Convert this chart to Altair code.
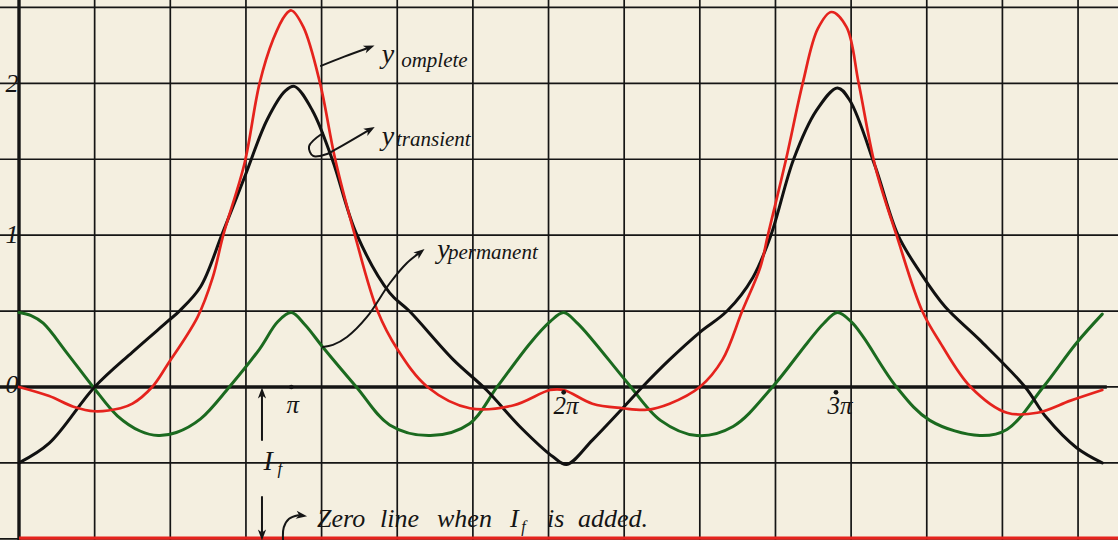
import altair as alt
import pandas as pd

# Abscissa: angle in degrees (one grid square = 50 degrees, so pi = 180).
# Ordinate: current, one unit = two grid squares.

transient_deg = [0, 20, 50, 75, 98, 106, 120, 134, 149, 164, 176, 182, 194, 207, 223,
                 245, 258, 287, 309, 331, 353, 362, 379, 399, 412, 430, 450, 468, 485,
                 497, 512, 527, 541, 549, 566, 581, 596, 612, 635, 665, 679, 699, 716]
transient_val = [-0.50, -0.37, 0.00, 0.23, 0.43, 0.50, 0.66, 1.00, 1.38, 1.76, 1.95, 1.98, 1.82, 1.50, 1.01,
                 0.62, 0.50, 0.18, -0.02, -0.26, -0.46, -0.51, -0.35, -0.14, 0.00, 0.18, 0.36, 0.50, 0.72,
                 1.00, 1.50, 1.82, 1.97, 1.89, 1.45, 1.00, 0.75, 0.53, 0.31, 0.00, -0.20, -0.40, -0.50]

complete_deg = [0, 20, 36, 50, 67, 75, 88, 98, 118, 128,
                135, 149, 159, 168, 176, 180, 188, 199, 209, 222,
                237, 250, 270, 298, 327, 351, 360, 379, 399, 415,
                430, 450, 465, 478, 490, 495, 507, 518, 528, 537,
                547, 555, 566, 580, 597, 609, 629, 653, 673, 695, 716]
complete_val = [0.00, -0.06, -0.13, -0.16, -0.14, -0.11, 0.00, 0.145, 0.46, 0.72,
                1.00, 1.47, 2.00, 2.29, 2.45, 2.48, 2.37, 2.00, 1.50, 1.00,
                0.50, 0.25, 0.00, -0.14, -0.12, -0.02, -0.02, -0.11, -0.14, -0.15,
                -0.11, 0.00, 0.18, 0.50, 0.79, 1.00, 1.50, 2.00, 2.36, 2.47,
                2.37, 2.00, 1.45, 1.00, 0.50, 0.29, 0.00, -0.17, -0.17, -0.09, -0.02]

permanent_deg = [0, 8, 16, 32, 49, 65, 80, 92, 104, 120, 139, 159, 171, 180, 189,
                 201, 223, 245, 272, 298, 316, 338, 351, 360, 369,
                 379, 402, 424, 448, 472, 498, 521, 532, 541, 550,
                 558, 580, 602, 635, 653, 677, 699, 716]
permanent_val = [0.49, 0.47, 0.42, 0.22, 0.00, -0.19, -0.29, -0.32, -0.30, -0.21, 0.00, 0.25, 0.43, 0.49, 0.41,
                 0.26, 0.00, -0.25, -0.32, -0.24, 0.00, 0.29, 0.43, 0.49, 0.42,
                 0.31, 0.03, -0.22, -0.32, -0.26, 0.00, 0.29, 0.42, 0.49, 0.43,
                 0.33, 0.00, -0.22, -0.32, -0.28, 0.00, 0.29, 0.48]

grid_deg = [0, 50, 100, 150, 200, 250, 300, 350, 400, 450, 500, 550, 600, 650, 700]
grid_val = [-1.0, -0.5, 0.0, 0.5, 1.0, 1.5, 2.0, 2.5]

pi_marks = [180, 360, 540]
pi_labels = ["π", "2π", "3π"]
y_labels = ["2", "1", "0"]

I_F = 1.0  # the constant term; adding it moves the zero line down by one unit

PAPER = "#f4efe0"
INK = "#151515"
RED = "#e5231d"
GREEN = "#1b6a1f"
BLACK = "#111111"
FONT = "Liberation Serif"

XS = alt.Scale(domain=[-12.56, 726.4], nice=False, zero=False)
YS = alt.Scale(domain=[-1.008, 2.549], nice=False, zero=False)


def X(field="deg"):
    return alt.X(f"{field}:Q", scale=XS, axis=None)


def Y(field="val"):
    return alt.Y(f"{field}:Q", scale=YS, axis=None)


# --- squared paper ---------------------------------------------------------
vgrid = alt.Chart(pd.DataFrame({"deg": grid_deg})).mark_rule(
    color=INK, strokeWidth=1.7).encode(x=X())
hgrid = alt.Chart(pd.DataFrame({"val": grid_val})).mark_rule(
    color=INK, strokeWidth=1.7).encode(y=Y())
y_axis = alt.Chart(pd.DataFrame({"deg": [0]})).mark_rule(
    color=INK, strokeWidth=3.4).encode(x=X())
x_axis = alt.Chart(pd.DataFrame({"deg": [-12.56], "deg2": [719], "val": [0]})).mark_rule(
    color=INK, strokeWidth=3.4).encode(x=X(), x2="deg2:Q", y=Y())
shifted_zero = alt.Chart(pd.DataFrame({"deg": [0], "deg2": [726.4], "val": [-I_F + 0.004]})).mark_rule(
    color=RED, strokeWidth=3.2).encode(x=X(), x2="deg2:Q", y=Y())

# --- the three curves ------------------------------------------------------
def curve(degs, vals, color, width):
    df = pd.DataFrame({"deg": degs, "val": vals})
    return alt.Chart(df).mark_line(
        color=color, strokeWidth=width, interpolate="catmull-rom",
        strokeCap="round", strokeJoin="round").encode(x=X(), y=Y())


permanent = curve(permanent_deg, permanent_val, GREEN, 3.0)
transient = curve(transient_deg, transient_val, BLACK, 3.0)
complete = curve(complete_deg, complete_val, RED, 2.7)

# --- pointer arrows --------------------------------------------------------
arrow_paths = {
    "complete": [(199.6, 2.115), (215.0, 2.176), (230.7, 2.233)],
    "transient": [(200.9, 1.673), (191.7, 1.585), (194.4, 1.522), (203.6, 1.535),
                  (207.6, 1.555), (231.0, 1.690)],
    "permanent": [(200.9, 0.264), (207.5, 0.277), (216.8, 0.329), (230.0, 0.461),
                  (245.2, 0.685), (256.4, 0.817), (264.0, 0.878)],
    "up": [(160.6, -0.349), (160.6, -0.06)],
    "down": [(160.6, -0.725), (160.6, -0.955)],
    "hook": [(174.5, -1.008), (175.0, -0.925), (178.5, -0.868), (184.6, -0.845)],
}
rows = []
for name, pts in arrow_paths.items():
    for i, (d, v) in enumerate(pts):
        rows.append({"id": name, "i": i, "deg": d, "val": v})
arrows = alt.Chart(pd.DataFrame(rows)).mark_line(
    color=INK, strokeWidth=2.0, interpolate="catmull-rom", strokeCap="round").encode(
    x=X(), y=Y(), detail="id:N", order="i:Q")

heads = pd.DataFrame({
    "deg": [231.6, 232.0, 265.2, 160.6, 160.6, 186.8],
    "val": [2.236, 1.695, 0.886, -0.040, -0.975, -0.847],
    "ang": [339, 330, 322, 270, 90, 8],
})
arrow_heads = alt.Chart(heads).mark_point(
    shape="M1,0 L-1,-0.75 L-0.45,0 L-1,0.75 Z", filled=True, color=INK,
    opacity=1, size=120).encode(x=X(), y=Y(), angle=alt.Angle("ang:Q", scale=None))

# --- marks on the axis -----------------------------------------------------
dots = alt.Chart(pd.DataFrame({"deg": pi_marks, "val": [0.0, -0.035, -0.035]})).mark_point(
    filled=True, color=INK, opacity=1, size=22).encode(x=X(), y=Y())

# --- lettering -------------------------------------------------------------
centred = pd.DataFrame({
    "txt": ["y", "y", "y"] + pi_labels + y_labels + ["I"],
    "deg": [243.9, 243.9, 280.6, 181.0, 361.5, 542.6, -4.6, -4.6, -4.6, 164.6],
    "val": [2.134, 1.594, 0.850, -0.170, -0.176, -0.176, 1.943, 0.949, -0.040, -0.547],
    "fs": [28, 28, 28, 25, 25, 25, 26, 26, 26, 28],
})
left = pd.DataFrame({
    "txt": ["omplete", "transient", "permanent", "f",
            "Zero", "line", "when", "I", "f", "is", "added."],
    "deg": [252.6, 249.2, 283.5, 170.8, 197.0, 238.6, 276.3, 324.5, 332.0, 349.0, 369.5],
    "val": [2.108, 1.588, 0.843, -0.575, -0.922, -0.922, -0.922, -0.922, -0.958, -0.922, -0.922],
    "fs": [21, 21, 21, 17, 26, 26, 26, 26, 16, 26, 26],
})
text_c = alt.Chart(centred).mark_text(
    font=FONT, fontStyle="italic", color=INK, align="center", baseline="alphabetic").encode(
    x=X(), y=Y(), text="txt:N", size=alt.Size("fs:Q", scale=None))
text_l = alt.Chart(left).mark_text(
    font=FONT, fontStyle="italic", color=INK, align="left", baseline="alphabetic").encode(
    x=X(), y=Y(), text="txt:N", size=alt.Size("fs:Q", scale=None))

chart = alt.layer(
    vgrid, hgrid, y_axis, x_axis, shifted_zero,
    permanent, transient, complete,
    arrows, arrow_heads, dots, text_c, text_l,
).properties(
    width=1118, height=540, background=PAPER, padding=0,
    autosize=alt.AutoSizeParams(type="none"),
).configure_view(stroke=None)

chart.save("out.html", embed_options={"renderer": "svg", "actions": False})
